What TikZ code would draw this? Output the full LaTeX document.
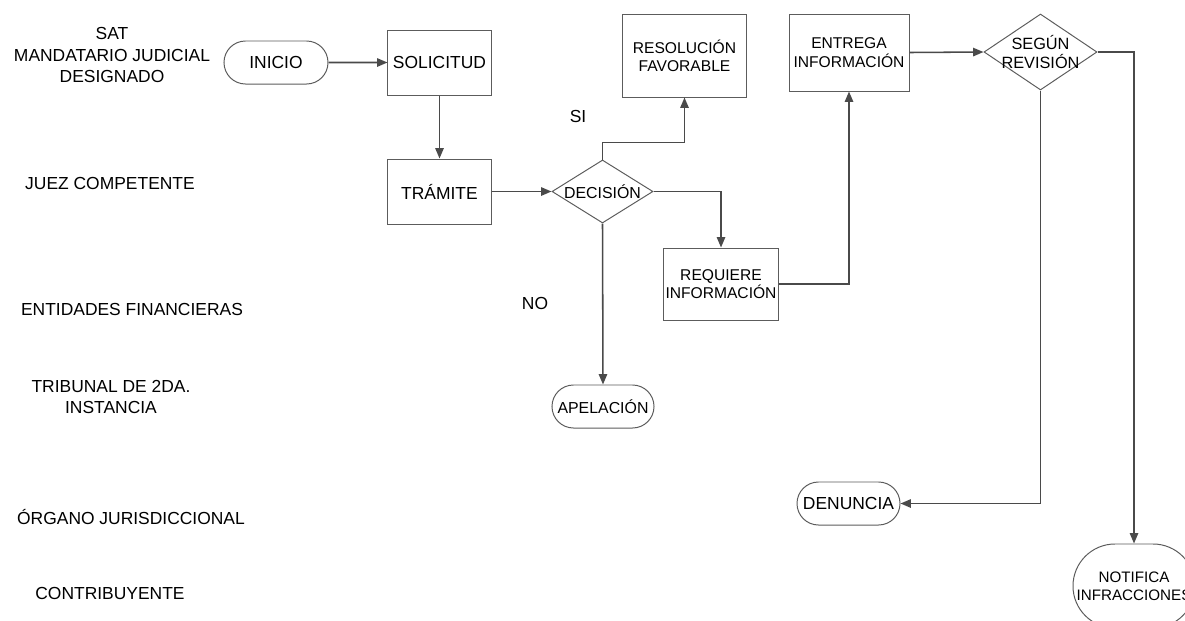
\documentclass[tikz,border=0pt]{standalone}
\usepackage{fontspec}
\setmainfont{Liberation Sans}
\usepackage{tikz}
\usetikzlibrary{arrows.meta}
\usetikzlibrary{shapes.geometric,shapes.misc}
\definecolor{lineclr}{HTML}{4A4A4A}
\definecolor{edgeclr}{HTML}{5C5C5C}

\begin{document}
\begin{tikzpicture}[
    x=0.025cm, y=-0.025cm,
    lane/.style={%
      align=center,
      font=\fontsize{12.4}{15.4}\selectfont,
    },
    txt/.style={%
      font=\fontsize{12.4}{15}\selectfont,
    },
    box/.style={%
      draw=edgeclr,
      line width=0.7pt,
      rectangle,
      align=center,
      inner sep=0pt,
      font=\fontsize{11.1}{13}\selectfont,
    },
    term/.style={%
      draw=edgeclr,
      line width=0.7pt,
      rounded rectangle,
      align=center,
      inner sep=0pt,
      font=\fontsize{11.1}{13}\selectfont,
    },
    decision/.style={%
      draw=edgeclr,
      line width=0.7pt,
      diamond,
      inner sep=0pt,
    },
    flow/.style={%
      draw=lineclr,
      line width=1.1pt,
      -{Triangle[length=0.26cm,width=0.21cm]},
    },
  ]

    \useasboundingbox (0,0) rectangle (1185,620);

    \node [lane] (L1) at (112,55) {SAT\\MANDATARIO JUDICIAL\\DESIGNADO};
    \node [lane] (L2) at (110,183) {JUEZ COMPETENTE};
    \node [lane] (L3) at (132,309) {ENTIDADES FINANCIERAS};
    \node [lane] (L4) at (111,397) {TRIBUNAL DE 2DA.\\INSTANCIA};
    \node [lane] (L5) at (131,517) {ÓRGANO JURISDICCIONAL};
    \node [lane] (L6) at (110,593) {CONTRIBUYENTE};

    \node [term, minimum width=2.6cm, minimum height=1.075cm,
           font=\fontsize{12.4}{15}\selectfont] (inicio) at (276,62.5) {INICIO};
    \node [box, minimum width=2.575cm, minimum height=1.625cm,
           font=\fontsize{12.4}{15}\selectfont] (solicitud) at (439.5,62.5) {SOLICITUD};
    \node [box, minimum width=2.575cm, minimum height=1.625cm,
           font=\fontsize{12.4}{15}\selectfont] (tramite) at (439.5,191.5) {TRÁMITE};
    \node [decision, minimum width=2.525cm, minimum height=1.575cm] (decision) at (602.5,191.5) {};
    \node [font=\fontsize{11.3}{13}\selectfont] (decisionT) at (decision.center) {DECISIÓN};
    \node [box, minimum width=3.075cm, minimum height=2.075cm] (resolucion) at (684.5,55.5) {RESOLUCIÓN\\FAVORABLE};
    \node [box, minimum width=2.85cm, minimum height=1.8cm] (requiere) at (721,284) {REQUIERE\\INFORMACIÓN};
    \node [box, minimum width=3.0cm, minimum height=1.925cm] (entrega) at (849,52.5) {ENTREGA\\INFORMACIÓN};
    \node [decision, minimum width=2.825cm, minimum height=1.9cm] (segun) at (1040.5,52) {};
    \node [align=center, font=\fontsize{11.6}{13.5}\selectfont] (segunT) at (segun.center) {SEGÚN\\REVISIÓN};
    \node [term, minimum width=2.55cm, minimum height=1.075cm,
           font=\fontsize{11.3}{13}\selectfont] (apelacion) at (603,406.5) {APELACIÓN};
    \node [term, minimum width=2.575cm, minimum height=1.075cm,
           font=\fontsize{12.4}{15}\selectfont] (denuncia) at (848.5,503.5) {DENUNCIA};
    \node [term, minimum width=3.05cm, minimum height=2.1cm,
           font=\fontsize{10.8}{12.8}\selectfont] (notifica) at (1134,586) {NOTIFICA\\INFRACCIONES};

    \node [txt] (si) at (578,116) {SI};
    \node [txt] (no) at (535,303) {NO};

    \draw [flow] (inicio) -- (solicitud);
    \draw [flow] (solicitud) -- (tramite);
    \draw [flow] (tramite) -- (decision.west);
    \draw [flow] (decision.north) -- ++(0,-17) -| (resolucion.south);
    \draw [flow] (decision.east) -| (requiere.north);
    \draw [flow] (decision.south) -- (apelacion.north);
    \draw [flow] (requiere.east) -| (entrega.south);
    \draw [flow] (entrega.east) -- (segun.west);
    \draw [flow] (segun.south) |- (denuncia.east);
    \draw [flow] (segun.east) -| (notifica.north);
\end{tikzpicture}
\end{document}
